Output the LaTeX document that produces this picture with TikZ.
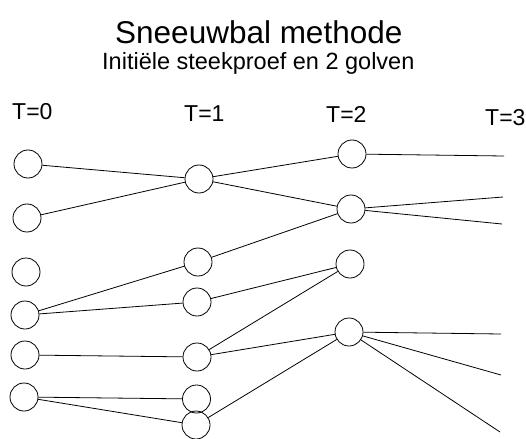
\documentclass[tikz,border=0pt]{standalone}
\usepackage{fontspec}
\setmainfont{Liberation Sans}
\begin{document}
\begin{tikzpicture}[x=1pt,y=-1pt,
  person/.style={circle,draw,line width=0.8pt,minimum size=28pt,inner sep=0pt},
  tie/.style={line width=0.8pt},
  label/.style={anchor=base west,inner sep=0pt}]
\useasboundingbox (0,0) rectangle (526,438);
% headings
\node[label,font=\fontsize{31.5}{34}\selectfont] (title) at (115,44) {Sneeuwbal methode};
\node[label,font=\fontsize{23.5}{26}\selectfont] (sub) at (102,70) {Initiële steekproef en 2 golven};
% wave labels
\node[label,font=\fontsize{23}{26}\selectfont] (t0) at (12,120) {T=0};
\node[label,font=\fontsize{23}{26}\selectfont] (t1) at (184,122) {T=1};
\node[label,font=\fontsize{23}{26}\selectfont] (t2) at (326,123) {T=2};
\node[label,font=\fontsize{23}{26}\selectfont] (t3) at (485,126) {T=3};
% initial sample
\node[person] (a1) at (28,164) {};
\node[person] (a2) at (27,218) {};
\node[person] (a3) at (26,272) {};
\node[person] (a4) at (25,315) {};
\node[person] (a5) at (25,355) {};
\node[person] (a6) at (24,397) {};
% first wave
\node[person] (b1) at (199,179) {};
\node[person] (b2) at (198,262) {};
\node[person] (b3) at (197,302) {};
\node[person] (b4) at (197,357) {};
\node[person] (b5) at (196.5,399) {};
\node[person] (b6) at (196,425) {};
% second wave
\node[person] (c1) at (352,154) {};
\node[person] (c2) at (351,209) {};
\node[person] (c3) at (350,264) {};
\node[person] (c4) at (349,332) {};
% loose ends towards T=3
\coordinate (d1) at (504,156);
\coordinate (d2) at (503,197);
\coordinate (d3) at (502,224);
\coordinate (d4) at (501,334);
\coordinate (d5) at (501,375);
\coordinate (d6) at (500,432);
% ties T=0 -> T=1
\draw[tie] (a1) -- (b1);
\draw[tie] (a2) -- (b1);
\draw[tie] (a4) -- (b2);
\draw[tie] (a4) -- (b3);
\draw[tie] (a5) -- (b4);
\draw[tie] (a6) -- (b5);
\draw[tie] (a6) -- (b6);
% ties T=1 -> T=2
\draw[tie] (b1) -- (c1);
\draw[tie] (b1) -- (c2);
\draw[tie] (b2) -- (c2);
\draw[tie] (b3) -- (c3);
\draw[tie] (b4) -- (c3);
\draw[tie] (b4) -- (c4);
\draw[tie] (b6) -- (c4);
% ties T=2 -> T=3
\draw[tie] (c1) -- (d1);
\draw[tie] (c2) -- (d2);
\draw[tie] (c2) -- (d3);
\draw[tie] (c4) -- (d4);
\draw[tie] (c4) -- (d5);
\draw[tie] (c4) -- (d6);
\end{tikzpicture}
\end{document}
